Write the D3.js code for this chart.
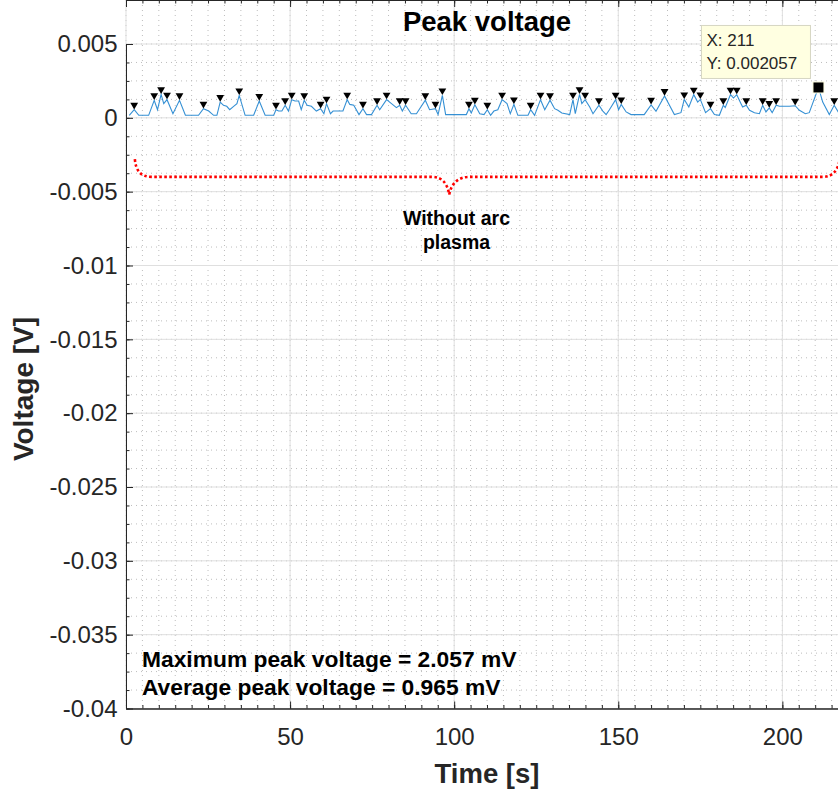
<!DOCTYPE html>
<html>
<head>
<meta charset="utf-8">
<script src="https://cdn.jsdelivr.net/npm/d3@7"></script>
<style>
  body { margin: 0; background: #fff; }
  text { font-family: "Liberation Sans", Arial, sans-serif; }
</style>
</head>
<body>
<script>
// peak voltage trace (time in s, voltage in mV)
var times = [1, 2.5, 3.9, 6.9, 8.6, 9.6, 10.7, 11.5, 12.5, 14.3, 16.3, 18.1, 22.1, 23.6, 25.2, 26.7, 27.7,
  28.7, 29.7, 30.7, 31.6, 32.8, 33.8, 34.5, 36.3, 38.9, 40.6, 42.4, 45, 45.7, 46.5, 47.5, 48.5, 49.5,
  50.5, 51.5, 52.6, 53.4, 54.3, 55.2, 56.5, 58, 59.3, 60.3, 61.1, 62.3, 63.1, 66.1, 67.4, 68.2, 69.4,
  71, 72.2, 73.3, 74.8, 76.5, 77.3, 79.4, 80.9, 82.4, 83.4, 84.2, 85.2, 86.9, 88.5, 91.2, 92.5, 94.3,
  95.1, 96.4, 97.4, 103.7, 104.5, 105.2, 106.3, 107.8, 109.1, 110.1, 111.1, 112.1, 113.3, 114.6, 116.1,
  117.1, 118.2, 119.4, 122.5, 123.3, 124.5, 126.3, 127.6, 129.2, 130.6, 131.6, 132.8, 135.2, 136.2,
  136.9, 138.2, 138.9, 139.9, 141.3, 142.3, 144.1, 145.3, 146.3, 147.3, 149.2, 150.1, 150.9, 152.4,
  153.9, 157.9, 160, 161.5, 164.1, 167.1, 169.1, 170.1, 171.5, 173, 174.2, 175, 176.6, 178.1, 179.3,
  180.8, 182, 182.6, 184.2, 185.1, 186.1, 187.4, 187.9, 189, 190, 191.5, 193, 194, 195, 196, 196.9,
  198.1, 199.1, 202.1, 203.9, 205.2, 207, 208.2, 211, 212.3, 214.3, 215.8, 217, 218.5, 220];
var voltsMV = [0.17, 0.55, 0.17, 0.17, 1.19, 0.55, 1.59, 0.96, 1.23, 0.28, 1.19, 0.17, 0.17, 0.62, 0.46, 0.17, 0.17,
  1.07, 0.85, 0.78, 0.55, 0.78, 0.96, 1.52, 0.17, 0.17, 1.14, 0.17, 0.17, 0.55, 0.46, 0.46, 0.85, 0.46,
  1.23, 1.14, 1.14, 0.55, 1.19, 0.85, 0.78, 0.46, 0.62, 0.28, 0.96, 0.28, 0.46, 0.46, 1.23, 0.91, 0.85,
  0.22, 0.62, 0.22, 0.22, 0.85, 0.55, 1.23, 0.96, 0.69, 0.85, 0.46, 0.85, 0.28, 0.28, 1.19, 0.55, 0.62,
  0.22, 1.52, 0.22, 0.22, 0.62, 0.33, 0.88, 0.28, 0.22, 0.55, 0.17, 0.46, 0.55, 1.23, 0.96,
  0.28, 0.91, 0.17, 0.17, 0.55, 0.17, 1.23, 0.55, 1.19, 0.62, 0.51, 0.33, 0.22, 1.23,
  0.28, 1.59, 0.96, 1.23, 0.73, 0.28, 0.85, 0.46, 0.22, 0.55, 1.23, 0.55, 0.91, 0.4,
  0.22, 0.22, 0.88, 0.44, 1.48, 0.22, 0.35, 1.25, 0.73, 1.57, 1.07, 1.25, 0.35, 0.62, 0.22,
  0.17, 0.85, 0.7, 1.57, 1.34, 1.57, 0.96, 0.73, 0.85, 0.51, 0.35, 0.28, 0.85, 0.4, 0.67, 0.35,
  0.85, 0.78, 0.78, 0.82, 0.51, 0.28, 0.35, 2.057, 1.07, 0.22, 0.85, 0.4, 0.5, 0.3];
// peaks flagged by the triangles
var peakTimes = [2.5, 8.6, 10.7, 12.5, 16.3, 23.6, 28.7, 34.5, 40.6, 45.7, 48.5, 50.5, 54.3, 59.3, 61.1,
  67.4, 72.2, 76.5, 79.4, 83.4, 85.2, 91.2, 94.3, 96.4, 104.5, 106.3, 110.1, 114.6, 118.2, 123.3,
  126.3, 129.2, 136.2, 138.2, 139.9, 144.1, 149.2, 150.9, 160, 164.1, 170.1, 173, 175, 178.1, 182,
  184.2, 186.1, 189, 194, 196, 198.1, 203.9, 215.8];

var xTicks = [0, 50, 100, 150, 200];
var yTicks = [0.005, 0, -0.005, -0.01, -0.015, -0.02, -0.025, -0.03, -0.035, -0.04];
var yTickLabels = ["0.005", "0", "-0.005", "-0.01", "-0.015", "-0.02", "-0.025", "-0.03", "-0.035", "-0.04"];
var tipX = 211, tipY = 0.002057;
var statLines = ["Maximum peak voltage = 2.057 mV", "Average peak voltage = 0.965 mV"];

var width = 838, height = 790;
var ink = "#262626";

var xScale = d3.scaleLinear().domain([0, 220]).range([126, 848]);
var yScale = d3.scaleLinear().domain([-0.04, 0.005]).range([708.5, 44]);

var svg = d3.select("body").append("svg")
    .attr("width", width)
    .attr("height", height)
    .style("display", "block");

svg.append("rect").attr("width", width).attr("height", height).attr("fill", "#fff");

var left = xScale(0), right = xScale(220), top = yScale(0.005), bottom = yScale(-0.04);

// grid: minor dotted, then major solid
var xMinor = d3.range(0, 221, 5);
var yMinor = d3.range(0, 37).map(function(i) { return -0.04 + i * 0.00125; });

var grid = svg.append("g");
grid.selectAll(".mx").data(xMinor).enter().append("line")
    .attr("x1", function(d) { return xScale(d); }).attr("x2", function(d) { return xScale(d); })
    .attr("y1", top).attr("y2", bottom)
    .attr("stroke", "#bdbdbd").attr("stroke-width", 1).attr("stroke-dasharray", "1,4");
grid.selectAll(".my").data(yMinor).enter().append("line")
    .attr("y1", function(d) { return yScale(d); }).attr("y2", function(d) { return yScale(d); })
    .attr("x1", left).attr("x2", right)
    .attr("stroke", "#bdbdbd").attr("stroke-width", 1).attr("stroke-dasharray", "1,4");
grid.selectAll(".gx").data(xTicks).enter().append("line")
    .attr("x1", function(d) { return xScale(d); }).attr("x2", function(d) { return xScale(d); })
    .attr("y1", top).attr("y2", bottom)
    .attr("stroke", "#dfdfdf").attr("stroke-width", 1);
grid.selectAll(".gy").data(yTicks).enter().append("line")
    .attr("y1", function(d) { return yScale(d); }).attr("y2", function(d) { return yScale(d); })
    .attr("x1", left).attr("x2", right)
    .attr("stroke", "#dfdfdf").attr("stroke-width", 1);

// axes (ticks point inward like matlab)
var styleAxis = function(g) {
  g.attr("font-size", 24).attr("font-family", "\"Liberation Sans\", Arial, sans-serif");
  g.selectAll("path,line").attr("stroke", ink);
  g.selectAll("text").attr("fill", ink);
};

svg.append("g").attr("transform", "translate(0," + bottom + ")")
    .call(d3.axisBottom(xScale).tickValues(xMinor).tickSize(-3.5).tickSizeOuter(0).tickFormat(""))
    .call(styleAxis);
svg.append("g").attr("transform", "translate(0," + bottom + ")")
    .call(d3.axisBottom(xScale).tickValues(xTicks).tickSize(-7).tickSizeOuter(0).tickPadding(19)
      .tickFormat(function(d) { return d; }))
    .call(styleAxis);
svg.append("g").attr("transform", "translate(0," + top + ")")
    .call(d3.axisTop(xScale).tickValues(xMinor).tickSize(-3.5).tickSizeOuter(0).tickFormat(""))
    .call(styleAxis);
svg.append("g").attr("transform", "translate(0," + top + ")")
    .call(d3.axisTop(xScale).tickValues(xTicks).tickSize(-7).tickSizeOuter(0).tickFormat(""))
    .call(styleAxis);
svg.append("g").attr("transform", "translate(" + left + ",0)")
    .call(d3.axisLeft(yScale).tickValues(yMinor).tickSize(-3.5).tickSizeOuter(0).tickFormat(""))
    .call(styleAxis);
svg.append("g").attr("transform", "translate(" + left + ",0)")
    .call(d3.axisLeft(yScale).tickValues(yTicks).tickSize(-7).tickSizeOuter(0).tickPadding(8.5)
      .tickFormat(function(d, i) { return yTickLabels[i]; }))
    .call(styleAxis);

// data line
var data = times.map(function(t, i) { return {t: t, v: voltsMV[i] / 1000}; });
var line = d3.line()
    .x(function(d) { return xScale(d.t); })
    .y(function(d) { return yScale(d.v); });

svg.append("path")
    .datum(data)
    .attr("d", line)
    .attr("fill", "none")
    .attr("stroke", "#3590d4")
    .attr("stroke-width", 1.1);

// peak markers
var peaks = peakTimes.map(function(t) {
  return {t: t, v: voltsMV[times.indexOf(t)] / 1000};
});
svg.append("g").selectAll("path").data(peaks).enter().append("path")
    .attr("transform", function(d) { return "translate(" + xScale(d.t) + "," + yScale(d.v) + ")"; })
    .attr("d", "M-3.9,-7L3.9,-7L0,-0.3Z")
    .attr("fill", "#000");

// red dotted brace under the trace
var bx = [2.7, 7.9, 93.2, 98.5, 104.5, 212.2, 217.5].map(xScale);
var byTop = yScale(-0.0028), byMid = yScale(-0.004), byTip = yScale(-0.0052);
var brace = d3.path();
brace.moveTo(bx[0], byTop);
brace.bezierCurveTo(bx[0] + 1, byMid - 6, bx[0] + 6, byMid, bx[1], byMid);
brace.lineTo(bx[2], byMid);
brace.bezierCurveTo(bx[2] + 10, byMid, bx[3] - 2, byMid + 6, bx[3], byTip);
brace.bezierCurveTo(bx[3] + 2, byMid + 6, bx[4] - 10, byMid, bx[4], byMid);
brace.lineTo(bx[5], byMid);
brace.bezierCurveTo(bx[5] + 10, byMid, bx[6] - 2, byMid - 6, bx[6], byTop);
svg.append("path")
    .attr("d", brace.toString())
    .attr("fill", "none")
    .attr("stroke", "#ff0000")
    .attr("stroke-width", 2.6)
    .attr("stroke-dasharray", "2.6,2.4");

svg.append("text")
    .attr("x", xScale(100.7)).attr("y", 225)
    .attr("text-anchor", "middle")
    .attr("font-size", 19.5).attr("font-weight", "bold")
    .attr("fill", "#000")
    .text("Without arc");
svg.append("text")
    .attr("x", xScale(100.7)).attr("y", 249)
    .attr("text-anchor", "middle")
    .attr("font-size", 19.5).attr("font-weight", "bold")
    .attr("fill", "#000")
    .text("plasma");

// stats text
svg.append("g").selectAll("text").data(statLines).enter().append("text")
    .attr("x", 142)
    .attr("y", function(d, i) { return 667 + i * 28; })
    .attr("font-size", 22.8).attr("font-weight", "bold")
    .attr("fill", "#000")
    .text(function(d) { return d; });

// data tip
var sx = xScale(tipX), sy = yScale(tipY);
svg.append("rect")
    .attr("x", sx - 117).attr("y", sy - 62)
    .attr("width", 109).attr("height", 53)
    .attr("fill", "#ffffe1")
    .attr("stroke", "#d6d6c2")
    .attr("stroke-width", 1);
svg.append("text")
    .attr("x", sx - 112).attr("y", sy - 41)
    .attr("font-size", 17).attr("fill", ink)
    .text("X: " + tipX);
svg.append("text")
    .attr("x", sx - 112).attr("y", sy - 18)
    .attr("font-size", 17).attr("fill", ink)
    .text("Y: " + tipY);
svg.append("rect")
    .attr("x", sx - 5.5).attr("y", sy - 5.5)
    .attr("width", 11).attr("height", 11)
    .attr("fill", "#000")
    .attr("stroke", "#ffffe1")
    .attr("stroke-width", 1);

// titles
svg.append("text")
    .attr("x", (left + right) / 2).attr("y", 31)
    .attr("text-anchor", "middle")
    .attr("font-size", 27.5).attr("font-weight", "bold")
    .attr("fill", "#000")
    .text("Peak voltage");
svg.append("text")
    .attr("x", (left + right) / 2).attr("y", 783)
    .attr("text-anchor", "middle")
    .attr("font-size", 27.5).attr("font-weight", "bold")
    .attr("fill", ink)
    .text("Time [s]");
svg.append("text")
    .attr("transform", "translate(33,389) rotate(-90)")
    .attr("text-anchor", "middle")
    .attr("font-size", 28).attr("font-weight", "bold")
    .attr("fill", ink)
    .text("Voltage [V]");
</script>
</body>
</html>
